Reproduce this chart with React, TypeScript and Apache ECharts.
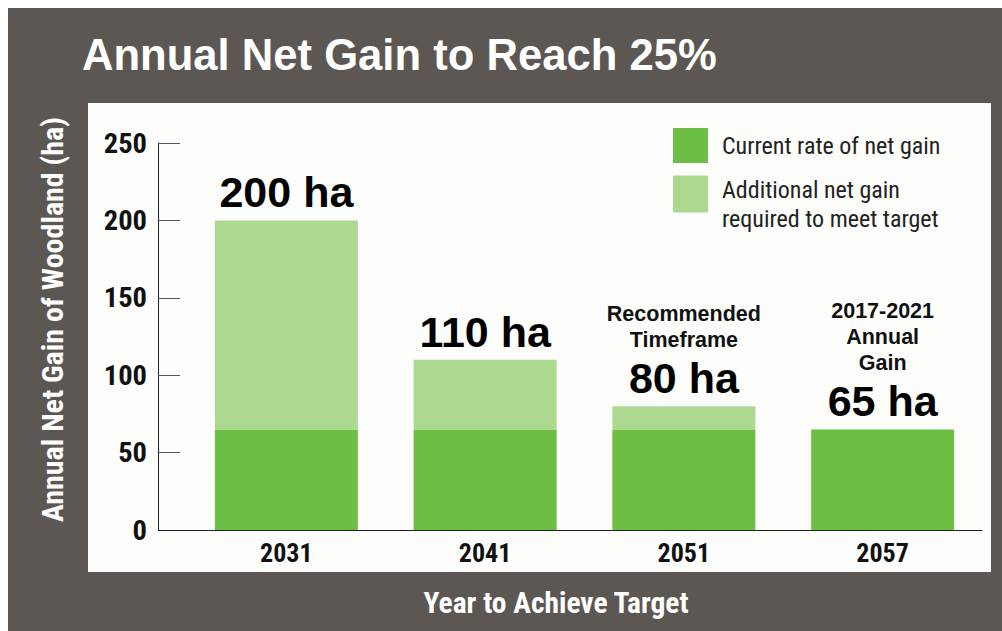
import React, { useEffect, useRef } from 'react';
import * as echarts from 'echarts';

const categories = ['2031', '2041', '2051', '2057'];
const currentGain = [65, 65, 65, 65];
const additionalGain = [135, 45, 15, 0];
const barNotes = ['', '', 'Recommended\nTimeframe', '2017-2021\nAnnual\nGain'];
const seriesNames = ['Current rate of net gain', 'Additional net gain\nrequired to meet target'];
const yMin = 0;
const yMax = 250;
const yInterval = 50;

const titleText = 'Annual Net Gain to Reach 25%';
const yAxisName = 'Annual Net Gain of Woodland (ha)';
const xAxisName = 'Year to Achieve Target';

const NARROW = '"Roboto Condensed", "Liberation Sans Narrow", sans-serif';
const ARIAL = '"Liberation Sans", Arial, sans-serif';

export default function App() {
  const ref = useRef<HTMLDivElement>(null);
  useEffect(() => {
    if (!ref.current) return;
    const chart = echarts.init(ref.current, null, { renderer: 'svg' });
    const legendText = { color: '#222', fontSize: 24, fontFamily: NARROW, lineHeight: 29 };
    const option: any = {
      animation: false,
      backgroundColor: '#5d5754',
      title: {
        text: titleText,
        left: 74,
        top: 25,
        padding: 0,
        textStyle: { color: '#ffffff', fontSize: 43.6, fontWeight: 'bold', fontFamily: ARIAL },
      },
      graphic: [
        {
          type: 'rect',
          z: -10,
          shape: { x: 80, y: 95, width: 903, height: 469 },
          style: { fill: '#fdfdfb' },
        },
        {
          type: 'line',
          z: 10,
          shape: { x1: 150, y1: 522.5, x2: 179, y2: 522.5 },
          style: { stroke: '#222', lineWidth: 1 },
        },
      ],
      legend: [
        {
          data: [seriesNames[0]],
          left: 665,
          top: 120,
          padding: 0,
          orient: 'vertical',
          itemWidth: 35,
          itemHeight: 35,
          icon: 'rect',
          selectedMode: false,
          textStyle: { ...legendText, padding: [0, 0, 0, 9] },
        },
        {
          data: [seriesNames[1]],
          left: 665,
          top: 147,
          padding: 0,
          orient: 'vertical',
          itemWidth: 35,
          itemHeight: 37,
          icon: 'rect',
          selectedMode: false,
          formatter: (name: string) =>
            '{s| }\n' + name.split('\n').map((l) => `{t|${l}}`).join('\n'),
          textStyle: {
            ...legendText,
            padding: [0, 0, 0, 9],
            rich: {
              s: { fontSize: 10, lineHeight: 20 },
              t: { ...legendText },
            },
          },
        },
      ],
      grid: { left: 179, right: 20, top: 135, bottom: 101, containLabel: false },
      xAxis: {
        type: 'category',
        data: categories,
        boundaryGap: true,
        axisLine: { lineStyle: { color: '#222', width: 1 } },
        axisTick: {
          inside: true,
          length: 10,
          interval: (i: number) => i !== 0,
          lineStyle: { color: '#333' },
        },
        axisLabel: { color: '#111', fontSize: 26, fontWeight: 'bold', fontFamily: NARROW, margin: 10 },
        name: xAxisName,
        nameLocation: 'middle',
        nameGap: 58,
        nameTextStyle: { color: '#ffffff', fontSize: 29.5, fontWeight: 'bold', fontFamily: NARROW, padding: [0, 57, 0, 0] },
      },
      yAxis: {
        type: 'value',
        min: yMin,
        max: yMax,
        interval: yInterval,
        offset: 29,
        splitLine: { show: false },
        axisLine: { show: true, lineStyle: { color: '#222', width: 1 } },
        axisTick: { show: true, inside: true, length: 22, lineStyle: { color: '#555' } },
        axisLabel: { color: '#111', fontSize: 28.5, fontWeight: 'bold', fontFamily: NARROW, margin: 11 },
        name: yAxisName,
        nameLocation: 'middle',
        nameRotate: 90,
        nameGap: 91,
        nameTextStyle: { color: '#ffffff', fontSize: 30, fontWeight: 'bold', fontFamily: NARROW, padding: [0, 0, 0, 34] },
      },
      series: [
        {
          name: seriesNames[0],
          type: 'bar',
          stack: 'total',
          barWidth: 143,
          data: currentGain,
          itemStyle: { color: '#6cbe45' },
        },
        {
          name: seriesNames[1],
          type: 'bar',
          stack: 'total',
          barWidth: 143,
          data: additionalGain,
          itemStyle: { color: '#acd88f' },
          label: {
            show: true,
            position: 'top',
            distance: 3,
            formatter: (p: any) => {
              const i = p.dataIndex;
              const total = currentGain[i] + additionalGain[i];
              const note = barNotes[i];
              const head = note ? note.split('\n').map((l) => `{n|${l}}`).join('\n') + '\n' : '';
              return head + `{v|${total} ha}`;
            },
            rich: {
              n: { fontSize: 21.5, fontWeight: 'bold', fontFamily: ARIAL, color: '#111', lineHeight: 26, align: 'center' },
              v: { fontSize: 43, fontWeight: 'bold', fontFamily: ARIAL, color: '#000', lineHeight: 50, align: 'center' },
            },
          },
        },
      ],
    };
    chart.setOption(option);
    return () => chart.dispose();
  }, []);
  return (
    <div
      ref={ref}
      style={{ position: 'fixed', left: 8, top: 8, width: 994, height: 623 }}
    />
  );
}
